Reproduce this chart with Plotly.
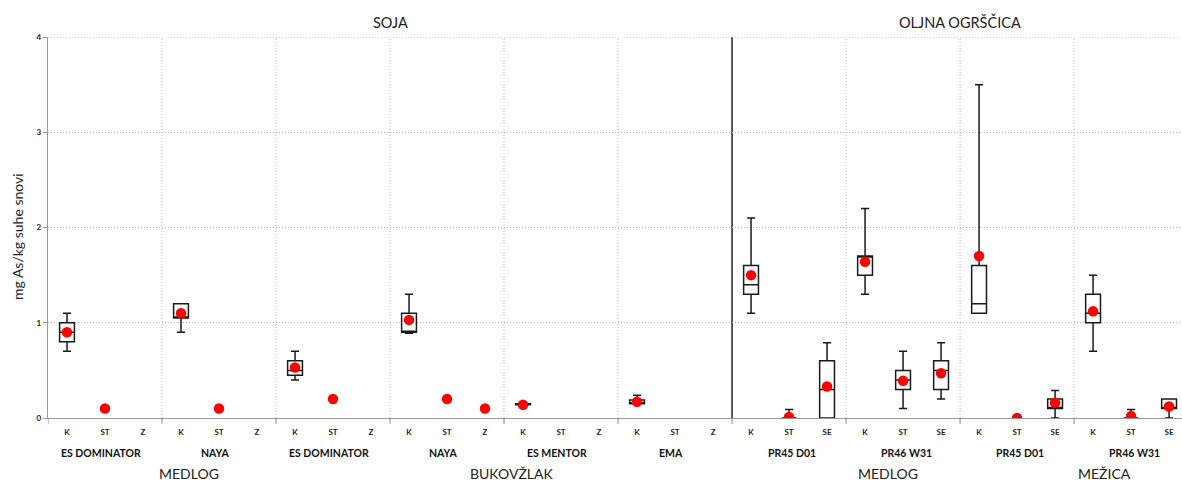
import plotly.graph_objects as go

# ---- data -------------------------------------------------------------
crops = ["SOJA", "OLJNA OGRŠČICA"]
locations = ["MEDLOG", "BUKOVŽLAK", "MEDLOG", "MEŽICA"]
varieties = ["ES DOMINATOR", "NAYA", "ES DOMINATOR", "NAYA", "ES MENTOR", "EMA",
             "PR45 D01", "PR46 W31", "PR45 D01", "PR46 W31"]
soja_parts = ["K", "ST", "Z"]
ogrscica_parts = ["K", "ST", "SE"]
tick_labels = soja_parts * 6 + ogrscica_parts * 4

# box statistics per category slot (None = no box drawn)
q1 =      [0.80, None, None, 1.05, None, None, 0.45, None, None, 0.90, None, None,
           0.14, None, None, 0.15, None, None, 1.30, 0.00, 0.00, 1.50, 0.30, 0.30,
           1.10, None, 0.10, 1.00, 0.00, 0.10]
median =  [0.90, None, None, 1.05, None, None, 0.50, None, None, 0.90, None, None,
           0.15, None, None, 0.16, None, None, 1.40, 0.00, 0.30, 1.70, 0.40, 0.50,
           1.20, None, 0.10, 1.10, 0.00, 0.10]
q3 =      [1.00, None, None, 1.20, None, None, 0.60, None, None, 1.10, None, None,
           0.15, None, None, 0.19, None, None, 1.60, 0.00, 0.60, 1.70, 0.50, 0.60,
           1.60, None, 0.20, 1.30, 0.00, 0.20]
low =     [0.70, None, None, 0.90, None, None, 0.40, None, None, 0.89, None, None,
           0.14, None, None, 0.15, None, None, 1.10, 0.00, 0.00, 1.30, 0.10, 0.20,
           1.10, None, 0.00, 0.70, 0.00, 0.00]
high =    [1.10, None, None, 1.20, None, None, 0.70, None, None, 1.30, None, None,
           0.16, None, None, 0.24, None, None, 2.10, 0.09, 0.79, 2.20, 0.70, 0.79,
           3.50, None, 0.29, 1.50, 0.09, 0.20]
mean =    [0.90, 0.10, None, 1.10, 0.10, None, 0.53, 0.20, None, 1.03, 0.20, 0.10,
           0.14, None, None, 0.17, None, None, 1.50, 0.01, 0.33, 1.64, 0.39, 0.47,
           1.70, 0.00, 0.16, 1.12, 0.02, 0.12]

FONT = "Lato"
GRID = "#b4b4b4"
slots = list(range(len(tick_labels)))

fig = go.Figure()

# box-and-whisker marks from precomputed statistics
bx = [i for i in slots if q1[i] is not None]
fig.add_trace(go.Box(
    x=bx,
    q1=[q1[i] for i in bx], median=[median[i] for i in bx], q3=[q3[i] for i in bx],
    lowerfence=[low[i] for i in bx], upperfence=[high[i] for i in bx],
    width=0.39, whiskerwidth=0.55, boxpoints=False,
    fillcolor="white", line=dict(color="#1a1a1a", width=1.5),
    showlegend=False, hoverinfo="skip",
))

# mean values as red dots
mx = [i for i in slots if mean[i] is not None]
fig.add_trace(go.Scatter(
    x=mx, y=[mean[i] for i in mx], mode="markers",
    marker=dict(color="#ff0000", size=10.5), showlegend=False,
))

shapes = []
# group separators (dotted), crop separator (solid)
for g in range(1, len(varieties)):
    xb = g * 3 - 0.5
    solid = g == 6
    shapes.append(dict(type="line", xref="x", yref="paper", x0=xb, x1=xb, y0=0, y1=1,
                       line=dict(color="black" if solid else GRID,
                                 width=1.3 if solid else 1,
                                 dash="solid" if solid else "1px,2px"), layer="below"))
    shapes.append(dict(type="line", xref="x", yref="paper", x0=xb, x1=xb, y0=0, y1=-0.016,
                       line=dict(color="#888", width=1)))
shapes.append(dict(type="line", xref="x", yref="paper", x0=-0.5, x1=-0.5, y0=0, y1=-0.016,
                   line=dict(color="#888", width=1)))
# top gridline at 4
shapes.append(dict(type="line", xref="paper", yref="y", x0=0, x1=1, y0=4, y1=4,
                   line=dict(color=GRID, width=1, dash="1px,2px"), layer="below"))

annotations = []
# variety labels under the tick labels
for g, name in enumerate(varieties):
    annotations.append(dict(text=f"<b>{name}</b>", x=g * 3 + 1, y=0, xref="x", yref="paper",
                            yshift=-35, xshift=-4 if g < 6 else 3, yanchor="middle",
                            showarrow=False,
                            font=dict(family=FONT, size=10.5, color="#111")))
# location labels
for name, xc in zip(locations, [3.2, 11.7, 21.6, 27.3]):
    annotations.append(dict(text=name, x=xc, y=0, xref="x", yref="paper", yshift=-55,
                            yanchor="middle", showarrow=False,
                            font=dict(family=FONT, size=14, color="#222")))
# crop labels on top
for name, xc in zip(crops, [8.5, 23.5]):
    annotations.append(dict(text=name, x=xc, y=1, xref="x", yref="paper", yshift=15,
                            yanchor="middle", showarrow=False,
                            font=dict(family=FONT, size=14.5, color="#222")))
# y-axis title
annotations.append(dict(text="mg As/kg suhe snovi", x=0, y=1.9, xref="paper", yref="y",
                        xshift=-31, xanchor="center", textangle=-90, showarrow=False,
                        yanchor="middle",
                        font=dict(family=FONT, size=14, color="#222")))

fig.update_layout(
    width=1182, height=482,
    margin=dict(l=48, r=0, t=37, b=64),
    plot_bgcolor="white", paper_bgcolor="white",
    shapes=shapes, annotations=annotations,
    xaxis=dict(range=[-0.5, 29.34], tickvals=slots, ticktext=tick_labels,
               tickfont=dict(family=FONT, size=8, color="#222", weight="bold"),
               showgrid=False, zeroline=False, showline=True, linecolor="#999",
               linewidth=1.3, ticks="", ticklabelstandoff=6),
    yaxis=dict(range=[0, 4], tickvals=[0, 1, 2, 3, 4],
               tickfont=dict(family=FONT, size=8, color="#222", weight="bold"),
               showgrid=True, gridcolor=GRID, griddash="1px,2px", gridwidth=1,
               zeroline=False, showline=True, linecolor="#999", linewidth=1.3,
               ticks="outside", ticklen=4, tickcolor="#999"),
)

fig.write_html("out.html")
